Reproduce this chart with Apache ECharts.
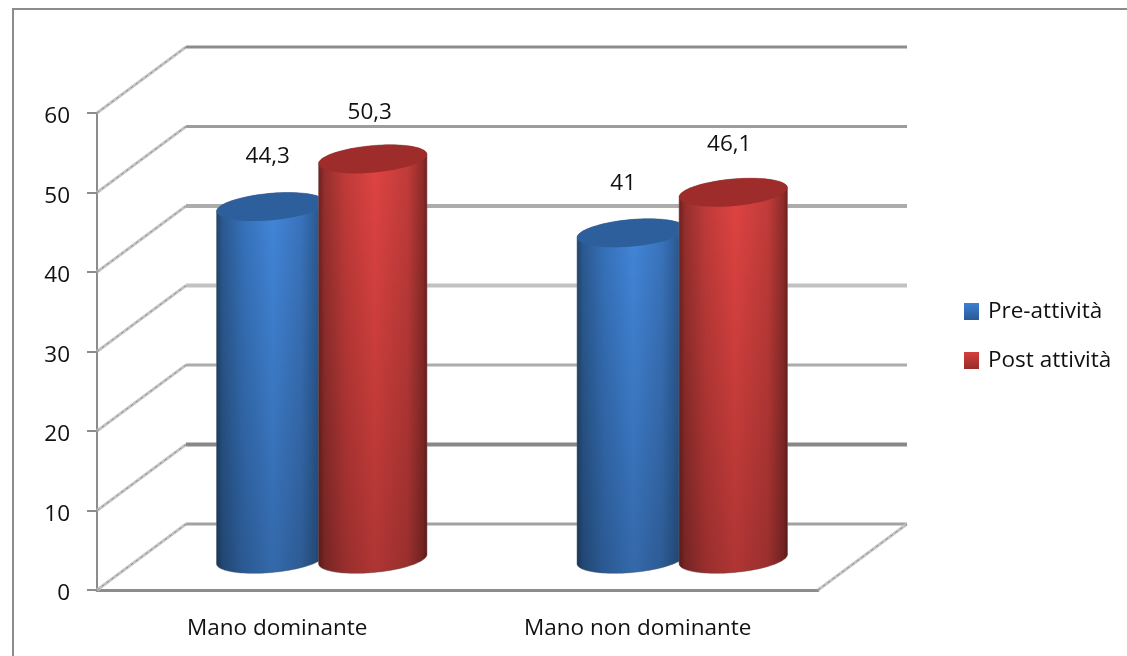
<!DOCTYPE html>
<html>
<head>
<meta charset="utf-8">
<style>html,body{margin:0;padding:0;background:#fff}#chart{width:1127px;height:656px}</style>
<script src="https://cdn.jsdelivr.net/npm/echarts@6/dist/echarts.min.js"></script>
</head>
<body>
<div id="chart"></div>
<script>
const categories = ['Mano dominante', 'Mano non dominante'];
const preAttivita = [44.3, 41];
const postAttivita = [50.3, 46.1];
const yTicks = [0, 10, 20, 30, 40, 50, 60];

// Rendered weight of each back-wall rule, bottom to top
const ruleColors = ['#a2a2a2', '#888888', '#acacac', '#c2c2c2', '#acacac', '#9c9c9c', '#8c8c8c'];
const ruleWidths = [3, 4, 3, 4, 4, 3, 3];

// Oblique projection of the box: how far the back wall sits from the front plane
const DEPTH_X = 89, DEPTH_Y = -66;
const BAND_SHIFT = 0.1415;   // cylinder centre offset, as a share of the category band
const RADIUS = 0.151;        // cylinder radius, as a share of the category band
const MINOR = 13.5;          // minor radius of the end ellipses
const TILT = -5.2 * Math.PI / 180;

const FONT = '"Open Sans"';
const FONT_SIZE = 22.5;

function ellipsePoints(cx, cy, a, b, from, to) {
  const pts = [];
  const n = 48;
  for (let i = 0; i <= n; i++) {
    const t = from + (to - from) * i / n;
    const ex = a * Math.cos(t), ey = b * Math.sin(t);
    pts.push([cx + ex * Math.cos(TILT) - ey * Math.sin(TILT),
              cy + ex * Math.sin(TILT) + ey * Math.cos(TILT)]);
  }
  return pts;
}

function hGradient(stops) {
  return new echarts.graphic.LinearGradient(0, 0, 1, 0,
    stops.map(s => ({ offset: s[0], color: s[1] })));
}

function cylinderRenderer(sign, palette, labelShift) {
  return function (params, api) {
    const idx = params.dataIndex;
    const val = api.value(1);
    const band = api.size([1, 0])[0];
    const anchor = api.coord([idx, 0]);
    const topAnchor = api.coord([idx, val]);
    const cx = anchor[0] + DEPTH_X / 2 + sign * BAND_SHIFT * band;
    const baseY = anchor[1] + DEPTH_Y / 2 + 2;
    const topY = topAnchor[1] + DEPTH_Y / 2 + 2;
    const a = RADIUS * band;
    const body = ellipsePoints(cx, baseY, a, MINOR, 0, Math.PI)
      .concat(ellipsePoints(cx, topY, a, MINOR, Math.PI, 2 * Math.PI));
    return {
      type: 'group',
      children: [
        { type: 'polygon', shape: { points: body },
          style: { fill: hGradient(palette.side), stroke: palette.edge, lineWidth: 1 } },
        // the light falls off towards the floor
        { type: 'polygon', shape: { points: body }, silent: true,
          style: { fill: new echarts.graphic.LinearGradient(0, 0, 0, 1, [
            { offset: 0, color: 'rgba(0,0,0,0)' },
            { offset: 1, color: 'rgba(0,0,0,0.22)' }]) } },
        { type: 'polygon', shape: { points: ellipsePoints(cx, topY, a, MINOR, 0, 2 * Math.PI) },
          style: { fill: palette.cap } },
        { type: 'text',
          style: { text: String(val).replace('.', ','), x: cx + labelShift[idx][0], y: topY - 49 + labelShift[idx][1],
            align: 'center', verticalAlign: 'middle', font: FONT_SIZE + 'px ' + FONT, fill: '#111' } }
      ]
    };
  };
}

const bluePalette = {
  cap: '#2c5f9b', edge: 'rgba(90,110,135,0.55)',
  side: [[0, '#214468'], [0.06, '#2b5a92'], [0.25, '#3672bb'], [0.52, '#4286da'], [0.78, '#3a74bd'], [1, '#244f80']]
};
const redPalette = {
  cap: '#9d2c2a', edge: 'rgba(135,95,95,0.55)',
  side: [[0, '#6e1f1e'], [0.06, '#96302e'], [0.25, '#c23b39'], [0.52, '#e04442'], [0.82, '#c23c3a'], [0.96, '#8e2c2a'], [1, '#6c1e1d']]
};

function sideWall(x1, y1, x2, y2) {
  return [
    { type: 'line', shape: { x1, y1, x2, y2 }, style: { stroke: '#c6c6c6', lineWidth: 3 } },
    { type: 'line', shape: { x1, y1, x2, y2 }, style: { stroke: '#8e8e8e', lineWidth: 1, lineDash: [3, 3] } }
  ];
}

const option = {
  animation: false,
  backgroundColor: '#fff',
  textStyle: { fontFamily: FONT },
  graphic: [{
    // Chart frame: top and left edges run off the page
    type: 'polyline', z: 0,
    shape: { points: [[13, 656], [13, 9], [1127, 9]] },
    style: { fill: 'none', stroke: '#8c8c8c', lineWidth: 2 }
  }],
  legend: {
    orient: 'vertical', left: 964, top: 300, padding: 0, itemWidth: 15, itemHeight: 17, itemGap: 26,
    itemStyle: { borderWidth: 0 },
    textStyle: { fontFamily: FONT, fontSize: FONT_SIZE, color: '#111', padding: [2, 0, 0, 4] },
    data: [{ name: 'Pre-attività', icon: 'rect' }, { name: 'Post attività', icon: 'rect' }]
  },
  grid: { left: 97, top: 113, width: 721, height: 477 },
  xAxis: {
    type: 'category', data: categories,
    axisLine: { lineStyle: { color: '#8c8c8c', width: 3 } },
    axisTick: { length: 10, lineStyle: { color: '#8c8c8c', width: 2 } },
    axisLabel: { fontSize: FONT_SIZE, color: '#111', margin: 27, fontFamily: FONT }
  },
  yAxis: {
    type: 'value', min: 0, max: 60, interval: 10,
    axisLine: { show: true, lineStyle: { color: '#8c8c8c', width: 2 } },
    axisTick: { show: true, length: 10, lineStyle: { color: '#8c8c8c', width: 2 } },
    axisLabel: {
      margin: 27, formatter: '{t|{value}}',
      rich: { t: { fontSize: FONT_SIZE, color: '#111', fontFamily: FONT, padding: [8, 0, 0, 0] } }
    },
    splitLine: { show: false }
  },
  series: [
    {
      // Side wall, back wall and floor rules of the 3D box
      type: 'custom', silent: true, z: 1, legendHoverLink: false,
      coordinateSystem: 'cartesian2d',
      data: yTicks.map(t => [0, t]),
      renderItem(params, api) {
        const v = api.value(1);
        const x0 = params.coordSys.x;
        const y = api.coord([0, v])[1];
        const width = params.coordSys.width;
        const bx = x0 + DEPTH_X, by = y + DEPTH_Y;
        const i = params.dataIndex;
        const kids = sideWall(x0, y, bx, by).concat([
          { type: 'line', shape: { x1: bx, y1: by, x2: bx + width, y2: by },
            style: { stroke: ruleColors[i], lineWidth: ruleWidths[i] } }
        ]);
        if (v === 0) kids.push(...sideWall(x0 + width, y, bx + width, by));
        return { type: 'group', children: kids };
      }
    },
    {
      name: 'Pre-attività', type: 'custom', z: 2,
      coordinateSystem: 'cartesian2d',
      itemStyle: { color: new echarts.graphic.LinearGradient(0, 0, 0, 1, [
        { offset: 0, color: '#3d80d2' }, { offset: 1, color: '#2a5a96' }]) },
      data: preAttivita.map((v, i) => [i, v]),
      renderItem: cylinderRenderer(-1, bluePalette, [[-3, -1], [-8, 0]])
    },
    {
      name: 'Post attività', type: 'custom', z: 3,
      coordinateSystem: 'cartesian2d',
      itemStyle: { color: new echarts.graphic.LinearGradient(0, 0, 0, 1, [
        { offset: 0, color: '#d43f3d' }, { offset: 1, color: '#962c2a' }]) },
      data: postAttivita.map((v, i) => [i, v]),
      renderItem: cylinderRenderer(1, redPalette, [[-3, 2], [-4, 1]])
    }
  ]
};

echarts.init(document.getElementById('chart')).setOption(option);
</script>
</body>
</html>
